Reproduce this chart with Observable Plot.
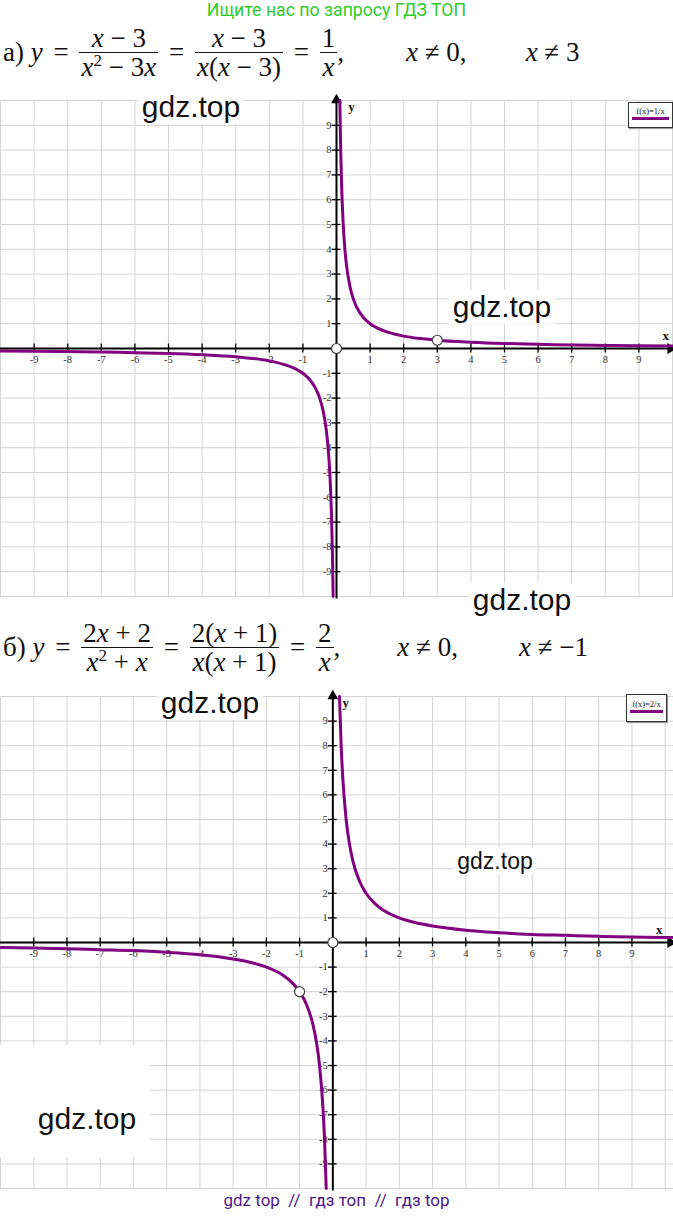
<!DOCTYPE html>
<html><head><meta charset="utf-8">
<script src="https://cdn.jsdelivr.net/npm/d3@7"></script>
<script src="https://cdn.jsdelivr.net/npm/@observablehq/plot@0.6"></script>
<style>
html,body{margin:0;padding:0;background:#fff;}
#page{position:relative;width:673px;height:1216px;overflow:hidden;background:#fff;}
.abs{position:absolute;}
.top-note{top:0px;left:0;width:673px;text-align:center;font:17.7px Roboto,"Liberation Sans",sans-serif;color:#2ecc2e;}
.eq{position:absolute;left:3px;display:flex;align-items:center;white-space:pre;font:27px "Liberation Serif",serif;color:#111;}
.frac{display:inline-flex;flex-direction:column;text-align:center;line-height:28px;}
.frac>span:first-child{border-bottom:1.5px solid #111;padding:0 2px;}
.frac>span:last-child{padding:0 2px;}
.eq sup{font-size:17px;line-height:0;vertical-align:10px;}
.eq .op{margin:0 4px;}
.eq .gap{display:inline-block;}
.wm{position:absolute;background:#fff;font-family:"Liberation Sans",Arial,sans-serif;color:#111;line-height:1;padding:2px 4px;transform:translate(-50%,-50%);white-space:nowrap;}
.wbox{position:absolute;background:#fff;}
.legend{position:absolute;border:1px solid #333;box-shadow:1px 1px 1px #999;background:#fff;font:8.5px "Liberation Serif",serif;color:#111;text-align:center;}
.legend .ln{height:3px;background:#800080;margin:1px 3px 0 3px;}
.footer{position:absolute;top:1190px;left:0;width:673px;text-align:center;white-space:pre;font:17px Roboto,"Liberation Sans",sans-serif;color:#4a1a88;}
svg{overflow:visible;}
</style>
</head><body>
<div id="page">
  <div class="abs top-note">Ищите нас по запросу ГДЗ ТОП</div>

  <div class="eq" style="top:24px">
    <span>а) <i>y</i></span>
    <span class="op"> = </span>
    <span class="frac"><span><i>x</i> − 3</span><span><i>x</i><sup>2</sup> − 3<i>x</i></span></span>
    <span class="op"> = </span>
    <span class="frac"><span><i>x</i> − 3</span><span><i>x</i>(<i>x</i> − 3)</span></span>
    <span class="op"> = </span>
    <span class="frac"><span>1</span><span><i>x</i></span></span>
    <span>,</span><span class="gap" style="width:62px"></span>
    <span><i>x</i> ≠ 0,</span><span class="gap" style="width:59px"></span>
    <span><i>x</i> ≠ 3</span>
  </div>

  <div id="chart1" class="abs" style="top:90px;left:0"></div>

  <div class="eq" style="top:619px">
    <span>б) <i>y</i></span>
    <span class="op"> = </span>
    <span class="frac"><span>2<i>x</i> + 2</span><span><i>x</i><sup>2</sup> + <i>x</i></span></span>
    <span class="op"> = </span>
    <span class="frac"><span>2(<i>x</i> + 1)</span><span><i>x</i>(<i>x</i> + 1)</span></span>
    <span class="op"> = </span>
    <span class="frac"><span>2</span><span><i>x</i></span></span>
    <span>,</span><span class="gap" style="width:57px"></span>
    <span><i>x</i> ≠ 0,</span><span class="gap" style="width:61px"></span>
    <span><i>x</i> ≠ −1</span>
  </div>

  <div id="chart2" class="abs" style="top:686px;left:0"></div>

  <div class="legend" style="left:628px;top:102px;width:43px;height:24px;"><div style="margin-top:3px">f(x)=1/x</div><div class="ln"></div></div>
  <div class="legend" style="left:626px;top:694px;width:39px;height:26px;"><div style="margin-top:4px">f(x)=2/x</div><div class="ln"></div></div>

  <div class="wm" style="left:191px;top:107px;font-size:30px">gdz.top</div>
  <div class="wm" style="left:502px;top:307px;font-size:30px">gdz.top</div>
  <div class="wm" style="left:522px;top:600px;font-size:30px">gdz.top</div>
  <div class="wm" style="left:210px;top:703px;font-size:30px">gdz.top</div>
  <div class="wm" style="left:495px;top:861px;font-size:23px">gdz.top</div>
  <div class="wbox" style="left:0;top:1045px;width:150px;height:112px;"></div>
  <div class="wm" style="left:87px;top:1119px;font-size:30px">gdz.top</div>

  <div class="footer">gdz top  //  гдз топ  //  гдз top</div>
</div>
<script>
// ---- data ----
const gridValues = [-10,-9,-8,-7,-6,-5,-4,-3,-2,-1,0,1,2,3,4,5,6,7,8,9,10];
const tickValues = [-9,-8,-7,-6,-5,-4,-3,-2,-1,1,2,3,4,5,6,7,8,9];

// graph а): y = 1/x
const a_posX = [0.1, 0.12, 0.15, 0.2, 0.25, 0.3, 0.4, 0.5, 0.6, 0.8, 1, 1.25, 1.5, 2, 2.5, 3, 4, 5, 6, 7, 8, 9, 10];
const a_posY = [10, 8.33, 6.67, 5, 4, 3.33, 2.5, 2, 1.67, 1.25, 1, 0.8, 0.67, 0.5, 0.4, 0.33, 0.25, 0.2, 0.17, 0.14, 0.125, 0.11, 0.1];
const a_negX = [-10, -9, -8, -7, -6, -5, -4, -3, -2.5, -2, -1.5, -1.25, -1, -0.8, -0.6, -0.5, -0.4, -0.3, -0.25, -0.2, -0.15, -0.12, -0.1];
const a_negY = [-0.1, -0.11, -0.125, -0.14, -0.17, -0.2, -0.25, -0.33, -0.4, -0.5, -0.67, -0.8, -1, -1.25, -1.67, -2, -2.5, -3.33, -4, -5, -6.67, -8.33, -10];
const a_holesX = [0, 3];
const a_holesY = [0, 0.333];

// graph б): y = 2/x
const b_posX = [0.2, 0.25, 0.3, 0.4, 0.5, 0.6, 0.8, 1, 1.25, 1.5, 2, 2.5, 3, 4, 5, 6, 7, 8, 9, 10.25];
const b_posY = [10, 8, 6.67, 5, 4, 3.33, 2.5, 2, 1.6, 1.33, 1, 0.8, 0.67, 0.5, 0.4, 0.33, 0.29, 0.25, 0.22, 0.2];
const b_negX = [-10, -9, -8, -7, -6, -5, -4, -3, -2.5, -2, -1.5, -1.25, -1, -0.8, -0.6, -0.5, -0.4, -0.3, -0.25, -0.2];
const b_negY = [-0.2, -0.22, -0.25, -0.29, -0.33, -0.4, -0.5, -0.67, -0.8, -1, -1.33, -1.6, -2, -2.5, -3.33, -4, -5, -6.67, -8, -10];
const b_holesX = [0, -1];
const b_holesY = [0, -2];

function toRows(xs, ys, branch){ return xs.map((x,i)=>({x, y: ys[i], branch})); }

function graph({posX,posY,negX,negY,holesX,holesY,xDomain,height,xLabelX,yLabelDx}){
  const curve = toRows(posX,posY,"pos").concat(toRows(negX,negY,"neg"));
  const holes = toRows(holesX,holesY,"hole");
  const serif = "Liberation Serif";
  return Plot.plot({
    width: 673, height,
    marginTop: 10, marginBottom: 9, marginLeft: 0, marginRight: 0,
    x: {domain: xDomain, axis: null},
    y: {domain: [-10, 10], axis: null},
    style: {background: "transparent"},
    marks: [
      Plot.ruleX(gridValues, {x: d=>d, y1: -10, y2: 10, stroke: "#d4d4d4", strokeWidth: 1}),
      Plot.ruleY(gridValues, {y: d=>d, x1: xDomain[0], x2: xDomain[1], stroke: "#d4d4d4", strokeWidth: 1}),
      // axes
      Plot.ruleY([0], {x1: xDomain[0], x2: xDomain[1], stroke: "#000", strokeWidth: 2}),
      Plot.ruleX([0], {y1: -10.1, y2: 10.1, stroke: "#000", strokeWidth: 2}),
      Plot.dot([{x: xDomain[1], y: 0}], {x: "x", y: "y", symbol: "triangle", rotate: 90, r: 4, fill: "#000", stroke: "none", dx: -3}),
      Plot.dot([{x: 0, y: 10.1}], {x: "x", y: "y", symbol: "triangle", r: 4, fill: "#000", stroke: "none", dy: 2}),
      // ticks
      Plot.ruleX(tickValues, {x: d=>d, y1: -0.18, y2: 0.18, stroke: "#000", strokeWidth: 1.3}),
      Plot.ruleY(tickValues, {y: d=>d, x1: -0.13, x2: 0.13, stroke: "#000", strokeWidth: 1.3}),
      Plot.text(tickValues, {x: d=>d, y: 0, dy: 11, text: d=>String(d), fontFamily: serif, fontSize: 10.5, fill: "#333"}),
      Plot.text(tickValues, {x: 0, y: d=>d, dx: -5, text: d=>String(d), textAnchor: "end", fontFamily: serif, fontSize: 10.5, fill: "#333"}),
      Plot.text(["x"], {x: xLabelX, y: 0, dy: -13, text: d=>d, fontFamily: serif, fontWeight: "bold", fontSize: 13, fill: "#111"}),
      Plot.text(["y"], {x: 0, y: 10, dx: yLabelDx, dy: 6, text: d=>d, fontFamily: serif, fontWeight: "bold", fontSize: 13, fill: "#111"}),
      // curve
      Plot.line(curve, {x: "x", y: "y", z: "branch", stroke: "#800080", strokeWidth: 3, curve: "monotone-x"}),
      Plot.dot(holes, {x: "x", y: "y", r: 5, fill: "#fff", stroke: "#444", strokeWidth: 1.2})
    ]
  });
}

document.getElementById("chart1").append(graph({
  posX: a_posX, posY: a_posY, negX: a_negX, negY: a_negY,
  holesX: a_holesX, holesY: a_holesY,
  xDomain: [-10, 10.03], height: 515, xLabelX: 9.8, yLabelDx: 15
}));
document.getElementById("chart2").append(graph({
  posX: b_posX, posY: b_posY, negX: b_negX, negY: b_negY,
  holesX: b_holesX, holesY: b_holesY,
  xDomain: [-10, 10.25], height: 511, xLabelX: 9.82, yLabelDx: 13
}));
</script>
</body></html>
